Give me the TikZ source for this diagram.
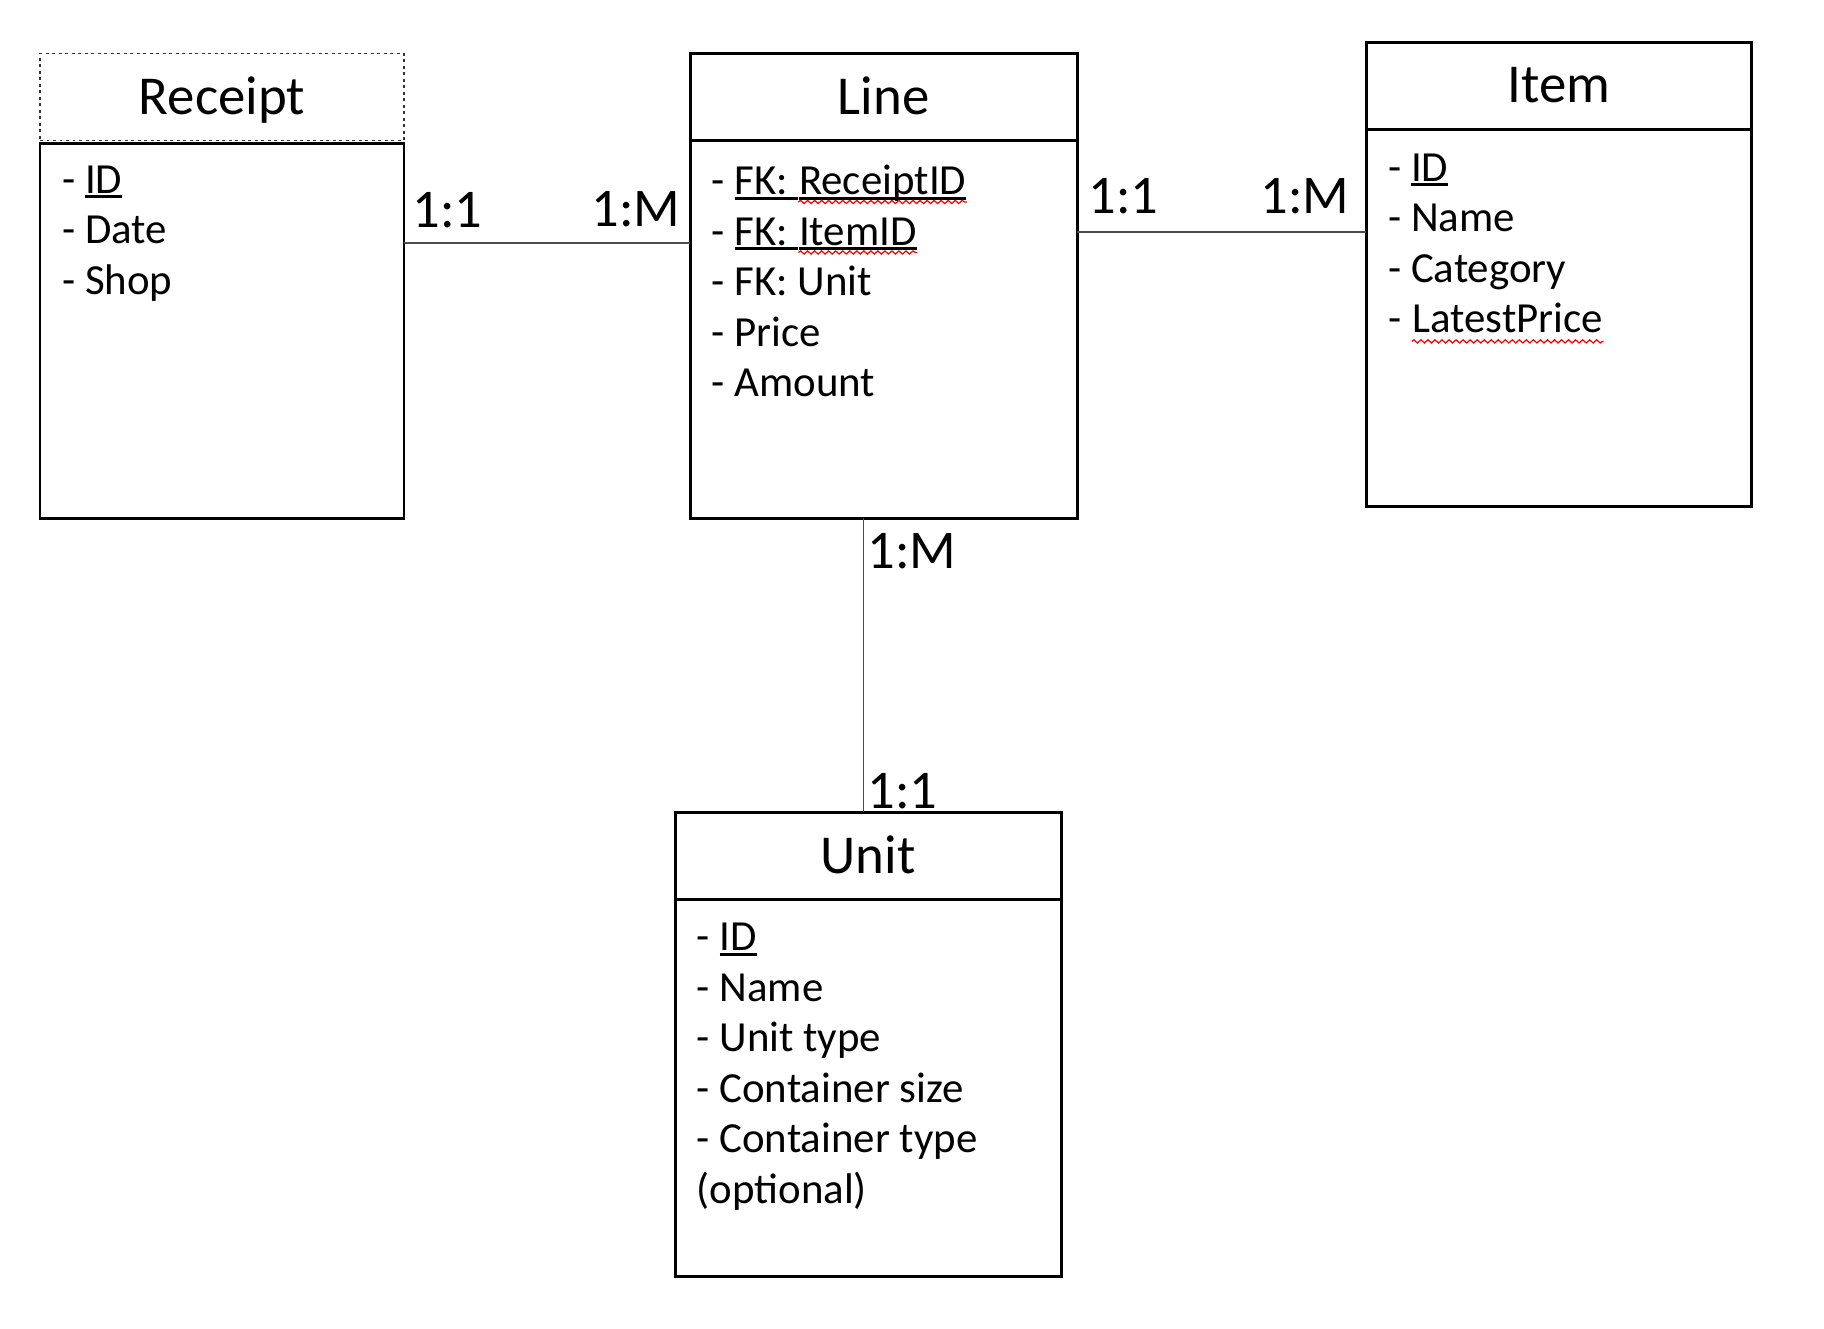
\documentclass[tikz,border=0pt]{standalone}
\usepackage{fontspec}
\setmainfont{Carlito}
\usetikzlibrary{positioning,decorations.pathmorphing}

% key underline (thicker than \underline)
\newcommand{\keyul}[1]{\setbox0\hbox{#1}\rlap{\rule[-1.4pt]{\wd0}{0.85pt}}\box0}

\begin{document}
\begin{tikzpicture}[
        entityhead/.style={draw, line width=0.85pt, minimum width=#1, minimum height=0.87cm,
            inner sep=0pt, outer sep=0pt, text height=9.9pt, text depth=0pt,
            font=\fontsize{15.6}{18.7}\selectfont},
        entitybody/.style={draw, line width=0.85pt, minimum width=#1, minimum height=3.77cm,
            inner sep=0pt, outer sep=0pt},
        attr/.style={anchor=base west, inner sep=0pt, font=\fontsize{12.2}{14.6}\selectfont},
        card/.style={anchor=base west, inner sep=0pt, font=\fontsize{15.5}{18.6}\selectfont},
        rel/.style={draw=black!70, line width=0.5pt},
        spell/.style={draw=red, line width=0.35pt, decorate,
            decoration={snake, segment length=2pt, amplitude=0.45pt}}
    ]
        \useasboundingbox (0,0) rectangle (18.24,13.29);

        % Receipt
        \node[entityhead=3.64cm, draw=black!80, densely dotted, line width=0.5pt] (receipthead) at (2.22,12.32) {Receipt};
        \node[entitybody=3.64cm, minimum height=3.75cm, below=0.03cm of receipthead] (receipt) {};
        \node[attr] (rid) at (0.615,11.355) {- \keyul{ID}};
        \node[attr] (rdate) at (0.615,10.85) {- Date};
        \node[attr] (rshop) at (0.615,10.345) {- Shop};

        % Line
        \node[entityhead=3.87cm] (linehead) at (8.835,12.32) {Line};
        \node[entitybody=3.87cm, minimum height=3.78cm, below=0pt of linehead] (line) {};
        \node[attr] (lfk1) at (7.11,11.34) {- \keyul{FK: }};
        \node[attr] (lfk1w) at (lfk1.base east) {\keyul{ReceiptID}};
        \node[attr] (lfk2) at (7.11,10.835) {- \keyul{FK: }};
        \node[attr] (lfk2w) at (lfk2.base east) {\keyul{ItemID}};
        \node[attr] (lfk3) at (7.11,10.33) {- FK: Unit};
        \node[attr] (lprice) at (7.11,9.825) {- Price};
        \node[attr] (lamount) at (7.11,9.32) {- Amount};
        \draw[spell] ([yshift=-2pt]lfk1w.base west) -- ([yshift=-2pt]lfk1w.base east);
        \draw[spell] ([yshift=-2pt]lfk2w.base west) -- ([yshift=-2pt]lfk2w.base east);

        % Item
        \node[entityhead=3.855cm] (itemhead) at (15.59,12.434) {Item};
        \node[entitybody=3.855cm, below=0pt of itemhead] (item) {};
        \node[attr] (iid) at (13.875,11.475) {- \keyul{ID}};
        \node[attr] (iname) at (13.875,10.97) {- Name};
        \node[attr] (icat) at (13.875,10.465) {- Category};
        \node[attr] (ilp) at (13.875,9.96) {- \null};
        \node[attr] (ilpw) at (ilp.base east) {LatestPrice};
        \draw[spell] ([yshift=-2.4pt]ilpw.base west) -- ([yshift=-2.4pt]ilpw.base east);

        % Unit
        \node[entityhead=3.86cm] (unithead) at (8.68,4.73) {Unit};
        \node[entitybody=3.86cm, below=0pt of unithead] (unit) {};
        \node[attr] (uid) at (6.96,3.78) {- \keyul{ID}};
        \node[attr] (uname) at (6.96,3.275) {- Name};
        \node[attr] (utype) at (6.96,2.77) {- Unit type};
        \node[attr] (usize) at (6.96,2.265) {- Container size};
        \node[attr] (uctype) at (6.96,1.76) {- Container type};
        \node[attr] (uopt) at (6.96,1.255) {(optional)};

        % Relations
        \coordinate (rlpt) at ([yshift=8.62mm]line.west);
        \coordinate (lipt) at ([yshift=8.59mm]item.west);
        \coordinate (lupt) at ([xshift=-0.45mm]unithead.north);
        \draw[rel] (receipt.east |- rlpt) -- (rlpt);
        \draw[rel] (line.east |- lipt) -- (lipt);
        \draw[rel] (line.south -| lupt) -- (lupt);

        \node[card] (rl1) at (4.12,11.017) {1:1};
        \node[card] (rlm) at (5.91,11.02) {1:M};
        \node[card] (li1) at (10.88,11.15) {1:1};
        \node[card] (lim) at (12.60,11.15) {1:M};
        \node[card] (lum) at (8.67,7.607) {1:M};
        \node[card] (lu1) at (8.67,5.207) {1:1};
    \end{tikzpicture}
\end{document}
